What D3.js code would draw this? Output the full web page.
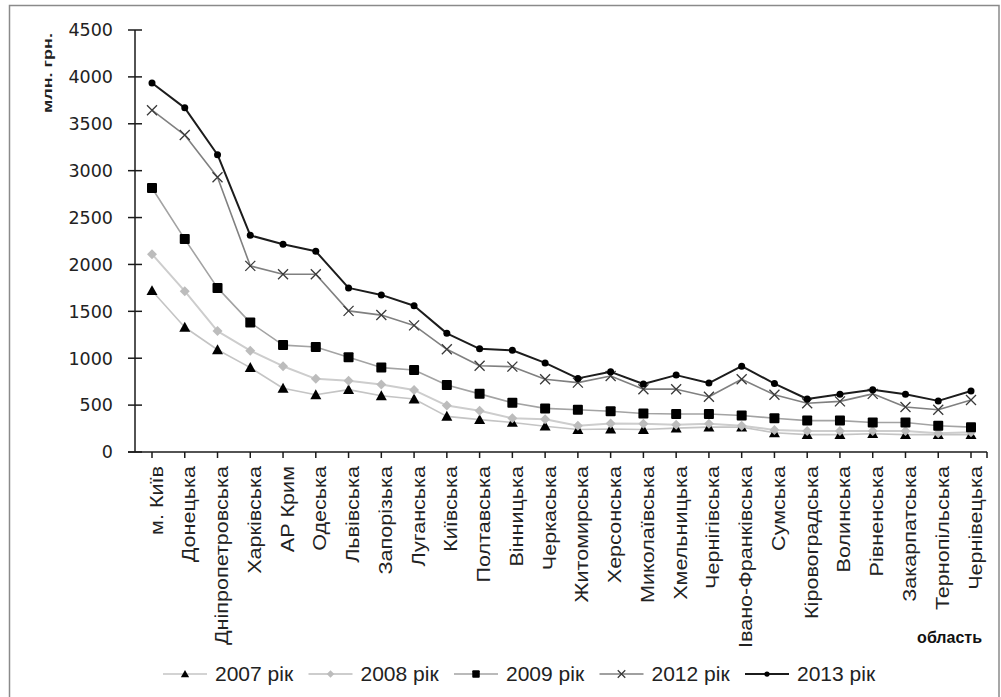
<!DOCTYPE html>
<html>
<head>
<meta charset="utf-8">
<script src="https://cdn.jsdelivr.net/npm/d3@7"></script>
<style>
  html, body { margin: 0; padding: 0; background: #fff; }
  svg { display: block; }
</style>
</head>
<body>
<svg id="chart" width="1001" height="697"></svg>
<script>
const categories = ["м. Київ","Донецька","Дніпропетровська","Харківська","АР Крим","Одеська","Львівська","Запорізька","Луганська","Київська","Полтавська","Вінницька","Черкаська","Житомирська","Херсонська","Миколаївська","Хмельницька","Чернігівська","Івано-Франківська","Сумська","Кіровоградська","Волинська","Рівненська","Закарпатська","Тернопільська","Чернівецька"];

const v2007 = [1720,1330,1090,900,680,610,665,600,565,380,345,315,275,240,245,240,255,265,265,205,185,185,195,185,185,185];
const v2008 = [2110,1715,1290,1080,915,780,760,720,660,495,440,360,350,280,305,300,290,300,280,235,225,225,225,225,200,210];
const v2009 = [2815,2270,1750,1380,1140,1120,1010,900,875,715,620,525,465,450,435,410,405,405,390,360,335,335,315,315,280,265];
const v2012 = [3645,3380,2930,1985,1895,1895,1505,1460,1350,1095,920,910,775,740,810,670,670,590,775,610,520,540,620,480,450,555];
const v2013 = [3935,3670,3170,2310,2215,2140,1750,1675,1560,1265,1100,1085,950,785,855,725,820,735,915,730,565,615,665,615,545,650];

const seriesNames = ["2007 рік","2008 рік","2009 рік","2012 рік","2013 рік"];
const seriesValues = [v2007, v2008, v2009, v2012, v2013];
const yTicks = [0,500,1000,1500,2000,2500,3000,3500,4000,4500];
const yTitle = "млн. грн.";
const xTitle = "область";

const styles = [
  {line:"#c4c4c4", lw:1.6, marker:"triangle", fill:"#000", stroke:"none", size:11},
  {line:"#cdcdcd", lw:2,   marker:"diamond",  fill:"#bcbcbc", stroke:"none", size:10},
  {line:"#a3a3a3", lw:1.6, marker:"square",   fill:"#000", stroke:"none", size:10},
  {line:"#808080", lw:1.6, marker:"cross",    fill:"none", stroke:"#3a3a3a", size:10},
  {line:"#1c1c1c", lw:2,   marker:"dot",      fill:"#000", stroke:"none", size:7}
];

const svg = d3.select("#chart");

// outer frame
svg.append("rect").attr("x",9.5).attr("y",5.5).attr("width",989.5).attr("height",700)
  .attr("fill","#fff").attr("stroke","#8a8a8a").attr("stroke-width",1.5);

const x = d3.scalePoint().domain(categories).range([152, 971]);
const y = d3.scaleLinear().domain([0,4500]).range([452, 30]);

const axisColor = "#1a1a1a";

// y axis
const yAxisG = svg.append("g").attr("transform","translate(135,0)");
yAxisG.append("line").attr("x1",0).attr("x2",0).attr("y1",y(4500)).attr("y2",y(0))
  .attr("stroke",axisColor).attr("stroke-width",1.5);
yAxisG.selectAll("line.tick").data(yTicks).enter().append("line").attr("class","tick")
  .attr("x1",-7).attr("x2",7).attr("y1",d=>y(d)).attr("y2",d=>y(d))
  .attr("stroke",axisColor).attr("stroke-width",1.5);
yAxisG.selectAll("text").data(yTicks).enter().append("text")
  .attr("x",-22).attr("y",d=>y(d)).attr("dy","0.36em")
  .attr("text-anchor","end")
  .attr("font-family","DejaVu Sans, sans-serif").attr("font-size","17.5px")
  .attr("fill","#222").text(d=>d);

// x axis
const xAxisG = svg.append("g");
xAxisG.append("line").attr("x1",128).attr("x2",987).attr("y1",y(0)).attr("y2",y(0))
  .attr("stroke",axisColor).attr("stroke-width",1.5);
const tickXs = categories.map(c=>x(c)).concat([987]);
xAxisG.selectAll("line.tick").data(tickXs).enter().append("line").attr("class","tick")
  .attr("x1",d=>d).attr("x2",d=>d).attr("y1",y(0)).attr("y2",y(0)+6)
  .attr("stroke",axisColor).attr("stroke-width",1.5);

const labels = xAxisG.selectAll("text.cat").data(categories).enter().append("text").attr("class","cat")
  .attr("transform",d=>`translate(${x(d)+4},466) rotate(-90)`)
  .attr("text-anchor","end").attr("dominant-baseline","central")
  .attr("font-family","Liberation Sans, Arial, sans-serif").attr("font-size","19px")
  .attr("fill","#222").text(d=>d);
// stretch labels along their length to match reference proportions
let refLen = 0;
labels.each(function(d){ if (d==="Дніпропетровська") refLen = this.getComputedTextLength(); });
const k = refLen ? 179/refLen : 1;
labels.each(function(){ const L=this.getComputedTextLength(); d3.select(this).attr("textLength",L*k).attr("lengthAdjust","spacingAndGlyphs"); });

// axis titles
svg.append("text").attr("transform","translate(47,73) rotate(-90)")
  .attr("text-anchor","middle").attr("dominant-baseline","central")
  .attr("font-family","Liberation Sans, Arial, sans-serif").attr("font-size","13px").attr("font-weight","bold")
  .attr("textLength",80).attr("lengthAdjust","spacingAndGlyphs")
  .attr("fill","#222").text(yTitle);
svg.append("text").attr("x",982).attr("y",643).attr("text-anchor","end")
  .attr("font-family","Liberation Sans, Arial, sans-serif").attr("font-size","16px").attr("font-weight","bold")
  .attr("fill","#111").text(xTitle);

function drawMarker(g, type, s, st){
  const h = s/2;
  if (type==="triangle") g.append("path").attr("d",`M0,${-h}L${h},${h*0.8}L${-h},${h*0.8}Z`).attr("fill",st.fill);
  else if (type==="diamond") g.append("path").attr("d",`M0,${-h}L${h},0L0,${h}L${-h},0Z`).attr("fill",st.fill);
  else if (type==="square") g.append("rect").attr("x",-h).attr("y",-h).attr("width",s).attr("height",s).attr("rx",1).attr("fill",st.fill);
  else if (type==="cross") g.append("path").attr("d",`M${-h},${-h}L${h},${h}M${-h},${h}L${h},${-h}`).attr("stroke",st.stroke).attr("stroke-width",1.3).attr("fill","none");
  else if (type==="dot") g.append("circle").attr("r",h).attr("fill",st.fill);
}

const line = d3.line().x((d,i)=>x(categories[i])).y(d=>y(d));

seriesValues.forEach((vals, si) => {
  const st = styles[si];
  const g = svg.append("g");
  g.append("path").datum(vals).attr("d",line).attr("fill","none")
    .attr("stroke",st.line).attr("stroke-width",st.lw).attr("stroke-linejoin","round");
  g.selectAll("g.m").data(vals).enter().append("g").attr("class","m")
    .attr("transform",(d,i)=>`translate(${x(categories[i])},${y(d)})`)
    .each(function(){ drawMarker(d3.select(this), st.marker, st.size, st); });
});

// legend
const legY = 674;
const leg = svg.append("g");
seriesNames.forEach((name, i) => {
  const st = styles[i];
  const x0 = 163 + i*145.5;
  const g = leg.append("g").attr("transform",`translate(${x0},${legY})`);
  g.append("line").attr("x1",0).attr("x2",44).attr("y1",0).attr("y2",0)
    .attr("stroke",st.line).attr("stroke-width",st.lw);
  const mg = g.append("g").attr("transform","translate(22,0)");
  drawMarker(mg, st.marker, st.size*0.75, st);
  g.append("text").attr("x",52).attr("y",0).attr("dy","0.35em")
    .attr("font-family","Liberation Sans, Arial, sans-serif").attr("font-size","21px")
    .attr("fill","#222").text(name);
});
</script>
</body>
</html>
